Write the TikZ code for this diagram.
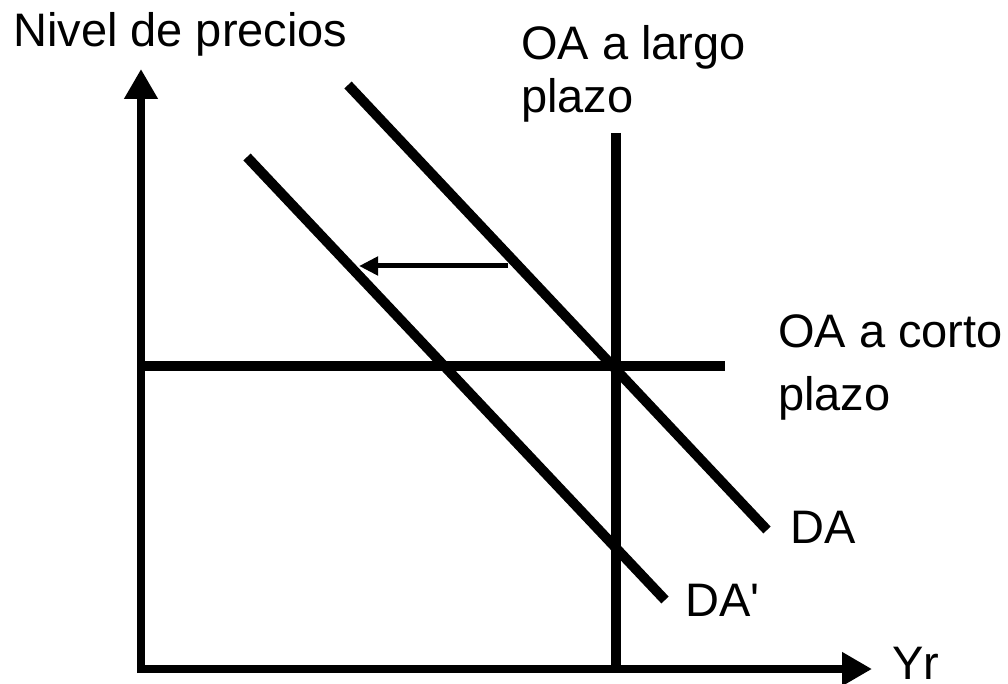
\documentclass[tikz,border=0pt]{standalone}
\usepackage{fontspec}
\setmainfont{Liberation Sans}
\usetikzlibrary{arrows.meta}
\newcommand{\straightquote}{\XeTeXglyph\XeTeXcharglyph"27\relax}
\begin{document}
\begin{tikzpicture}[x=1pt,y=-1pt,
  lbl/.style={anchor=base west,inner sep=0pt,font=\fontsize{47}{54}\selectfont},
  axisline/.style={line width=8pt,-{Triangle[length=30pt,width=32pt]}},
  curve/.style={line width=10pt},
  shiftarrow/.style={line width=5pt,-{Triangle[length=19pt,width=18pt]}}]
\useasboundingbox (0,0) rectangle (1008,684);
% coordinates
\coordinate (Obot) at (141,673);
\coordinate (Oleft) at (137,669);
\coordinate (Ytop) at (141,69);
\coordinate (Xend) at (872,669);
\coordinate (SRa) at (141,366);
\coordinate (SRb) at (725,366);
\coordinate (LRa) at (616,133);
\coordinate (LRb) at (616,669);
\coordinate (DAa) at (348,85);
\coordinate (DAb) at (767,530);
\coordinate (DBa) at (247,157);
\coordinate (DBb) at (665,600);
\coordinate (ARa) at (508,266);
\coordinate (ARb) at (359,266);
% axes
\draw[axisline] (Obot) -- (Ytop);
\draw[axisline] (Oleft) -- (Xend);
% curves
\draw[curve] (SRa) -- (SRb);
\draw[curve] (LRa) -- (LRb);
\draw[curve] (DAa) -- (DAb);
\draw[curve] (DBa) -- (DBb);
\draw[shiftarrow] (ARa) -- (ARb);
% labels
\node[lbl] (ylab) at (13,47) {Nivel de precios};
\node[lbl] (lr1) at (521,60) {OA a largo};
\node[lbl] (lr2) at (521,113) {plazo};
\node[lbl] (sr1) at (778,347) {OA a corto};
\node[lbl] (sr2) at (778,410) {plazo};
\node[lbl] (da) at (790,543) {DA};
\node[lbl] (dap) at (685,616) {DA\straightquote};
\node[lbl] (yr) at (892,679) {\raisebox{0pt}[\height][0pt]{Yr}};
\end{tikzpicture}
\end{document}
